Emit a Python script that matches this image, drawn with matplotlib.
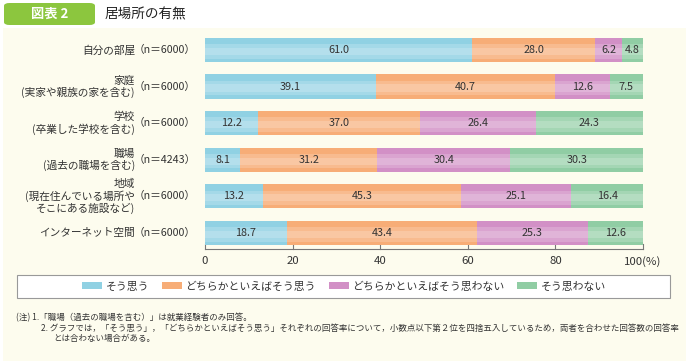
import matplotlib
matplotlib.use("Agg")
import matplotlib.pyplot as plt
from matplotlib.patches import Rectangle, FancyBboxPatch
import numpy as np

plt.rcParams['font.family'] = ['Noto Sans CJK JP', 'DejaVu Sans']

# Data
categories = ["自分の部屋", "家庭\n(実家や親族の家を含む)", "学校\n(卒業した学校を含む)",
              "職場\n(過去の職場を含む)", "地域\n(現在住んでいる場所や\nそこにある施設など)",
              "インターネット空間"]
n_labels = ["（n＝6000）", "（n＝6000）", "（n＝6000）", "（n＝4243）", "（n＝6000）", "（n＝6000）"]
series_names = ["そう思う", "どちらかといえばそう思う", "どちらかといえばそう思わない", "そう思わない"]
soo = [61.0, 39.1, 12.2, 8.1, 13.2, 18.7]
dochira_soo = [28.0, 40.7, 37.0, 31.2, 45.3, 43.4]
dochira_nai = [6.2, 12.6, 26.4, 30.4, 25.1, 25.3]
soo_nai = [4.8, 7.5, 24.3, 30.3, 16.4, 12.6]
xticks = [0, 20, 40, 60, 80, 100]
xticklabels = ["0", "20", "40", "60", "80", "100(%)"]
colors = ["#90d1e3", "#f7ad77", "#d290c6", "#90cda4"]
notes = ["(注) 1.「職場（過去の職場を含む）」は就業経験者のみ回答。",
         "2. グラフでは，「そう思う」，「どちらかといえばそう思う」それぞれの回答率について，小数点以下第２位を四捨五入しているため，両者を合わせた回答数の回答率",
         "とは合わない場合がある。"]

W, H = 686, 361
fig = plt.figure(figsize=(W / 100, H / 100), dpi=100, facecolor="white")


def fx(px):
    return px / W


def fy(py):
    return 1 - py / H


# background panel and header
fig.patches.append(Rectangle((fx(3), 0), fx(683), fy(28), transform=fig.transFigure,
                             facecolor="#fdfcee", edgecolor="none", zorder=-10))
fig.patches.append(FancyBboxPatch((fx(4), fy(25)), fx(91), fy(3) - fy(25),
                                  boxstyle="round,pad=0,rounding_size=0.008",
                                  transform=fig.transFigure, facecolor="#8cc63e",
                                  edgecolor="none", zorder=-5))
fig.text(fx(50), fy(14), "図表 2", color="white", fontsize=9.5, fontweight="bold",
         ha="center", va="center")
fig.text(fx(105), fy(14), "居場所の有無", color="#222222", fontsize=9.8,
         ha="left", va="center")

# axes
top, bottom = 36, 249
ax = fig.add_axes([fx(205), fy(bottom), fx(643) - fx(205), (bottom - top) / H])
ax.set_facecolor("none")
y = np.arange(len(categories))
data = [soo, dochira_soo, dochira_nai, soo_nai]
bh = 0.66
left = np.zeros(len(categories))
for vals, c in zip(data, colors):
    vals = np.array(vals)
    ax.barh(y, vals, left=left, height=bh, color=c, edgecolor="none", zorder=2)
    # soft highlight in the middle of the bar
    ax.barh(y + 0.04, vals, left=left, height=bh * 0.6, color="white", alpha=0.18,
            edgecolor="none", zorder=3)
    ax.barh(y + 0.04, vals, left=left, height=bh * 0.3, color="white", alpha=0.18,
            edgecolor="none", zorder=3)
    for yi, l, v in zip(y, left, vals):
        ax.text(l + v / 2, yi, f"{v:.1f}", ha="center", va="center", fontsize=7.8,
                color="#333333", zorder=4)
    left = left + vals

ax.set_xlim(0, 100)
ax.set_ylim(5.44, -0.38)
ax.set_yticks([])
ax.set_xticks(xticks)
ax.set_xticklabels(xticklabels)
ax.tick_params(axis="x", direction="in", length=0, labelsize=8.2, labelcolor="#333333", pad=5)
for s in ["top", "right", "left"]:
    ax.spines[s].set_visible(False)
ax.spines["bottom"].set_color("#777777")
ax.spines["bottom"].set_linewidth(0.8)
for xt in xticks:
    ax.plot([xt, xt], [5.44, 5.3], color="#777777", lw=0.8, clip_on=False, zorder=1)

# category labels
for yi, cat, n in zip(y, categories, n_labels):
    ax.text(-16.0, yi, cat, ha="right", va="center", fontsize=7.7, color="#333333",
            linespacing=1.1, clip_on=False)
    ax.text(-16.4, yi, n, ha="left", va="center", fontsize=7.7, color="#333333",
            clip_on=False)

# legend
fig.patches.append(Rectangle((fx(17), fy(298)), fx(653), fy(275) - fy(298),
                             transform=fig.transFigure, facecolor="white",
                             edgecolor="#999999", lw=0.8, zorder=-4))
handles = [Rectangle((0, 0), 1, 1, facecolor=c, edgecolor="none") for c in colors]
fig.legend(handles, series_names, ncol=4, loc="center", bbox_to_anchor=(fx(344), fy(286.5)),
           frameon=False, fontsize=7.8, handlelength=1.85, handleheight=0.6,
           handletextpad=0.3, columnspacing=1.2, labelcolor="#333333")

# notes
fig.text(fx(16), fy(318), notes[0], fontsize=6.1, color="#333333", va="center")
fig.text(fx(41), fy(328), notes[1], fontsize=6.1, color="#333333", va="center")
fig.text(fx(53), fy(338), notes[2], fontsize=6.1, color="#333333", va="center")

fig.savefig("out.png", dpi=100, facecolor=fig.get_facecolor())
